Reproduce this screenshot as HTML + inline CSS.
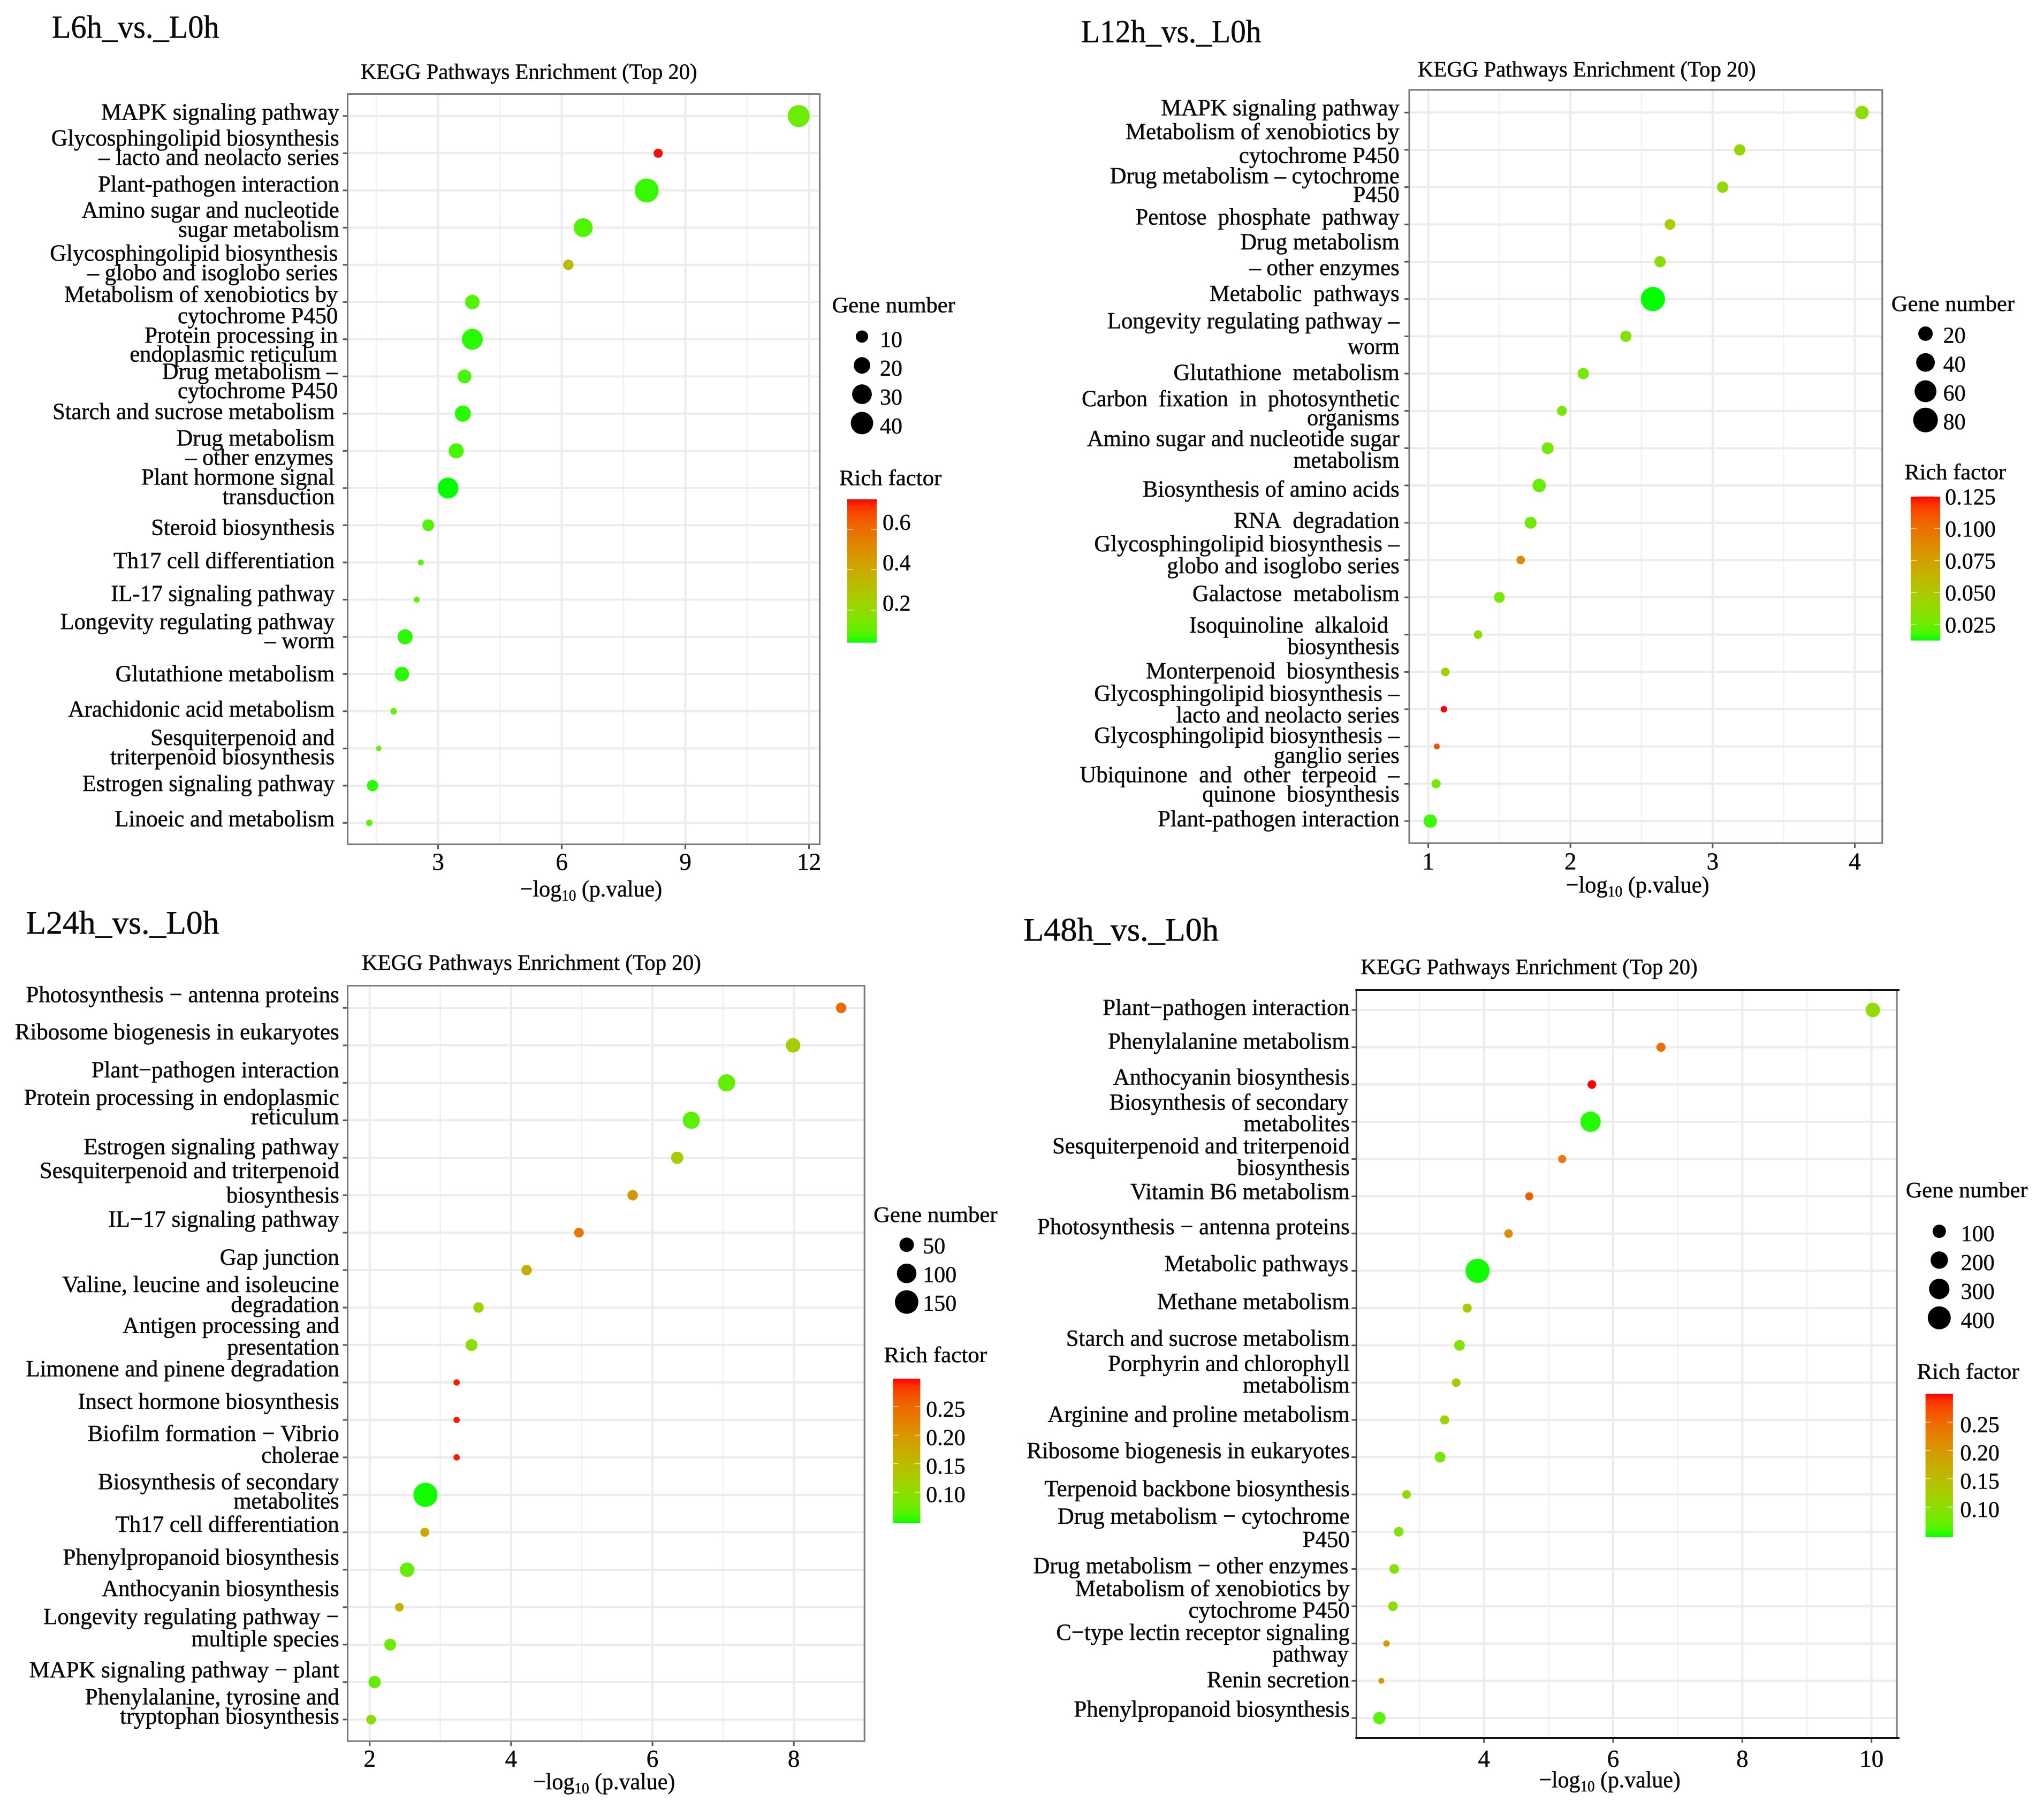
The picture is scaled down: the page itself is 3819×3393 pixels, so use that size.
<!DOCTYPE html>
<html lang="en">
<head>
<meta charset="utf-8">
<title>KEGG Pathways Enrichment</title>
<style>
html,body{margin:0;padding:0;background:#fff}
svg{display:block}
text{font-family:"Liberation Serif",serif;fill:#0a0a0a;stroke:#0a0a0a;stroke-width:0.5px}
.lab text{font-size:40px}
.lab text.head{font-size:56px}
.lab text.sub{font-size:38px}
.lab text.leg{font-size:38px}
</style>
</head>
<body>
<svg id="figure" xmlns="http://www.w3.org/2000/svg" width="3819" height="3393" viewBox="0 0 3819 3393">
<defs id="defs"></defs>
<rect width="3819" height="3393" fill="#fff"/>

<g id="p1"></g>
<g id="p2"></g>
<g id="p3"></g>
<g id="p4"></g>

<g class="lab" transform="scale(1.2117,1.0842)">
<text class="head" x="80" y="65" textLength="258" lengthAdjust="spacingAndGlyphs">L6h_vs._L0h</text>
<text class="sub" x="556" y="136" textLength="519" lengthAdjust="spacingAndGlyphs">KEGG Pathways Enrichment (Top 20)</text>
<text x="156" y="206" textLength="367" lengthAdjust="spacingAndGlyphs">MAPK signaling pathway</text>
<text x="79" y="251" textLength="444" lengthAdjust="spacingAndGlyphs">Glycosphingolipid biosynthesis</text>
<text x="152" y="284" textLength="371" lengthAdjust="spacingAndGlyphs">– lacto and neolacto series</text>
<text x="151" y="330" textLength="372" lengthAdjust="spacingAndGlyphs">Plant-pathogen interaction</text>
<text x="126" y="375" textLength="397" lengthAdjust="spacingAndGlyphs">Amino sugar and nucleotide</text>
<text x="275" y="408" textLength="248" lengthAdjust="spacingAndGlyphs">sugar metabolism</text>
<text x="77" y="449" textLength="444" lengthAdjust="spacingAndGlyphs">Glycosphingolipid biosynthesis</text>
<text x="135" y="483" textLength="386" lengthAdjust="spacingAndGlyphs">– globo and isoglobo series</text>
<text x="99" y="520" textLength="422" lengthAdjust="spacingAndGlyphs">Metabolism of xenobiotics by</text>
<text x="274" y="557" textLength="247" lengthAdjust="spacingAndGlyphs">cytochrome P450</text>
<text x="223" y="591" textLength="298" lengthAdjust="spacingAndGlyphs">Protein processing in</text>
<text x="200" y="623" textLength="320" lengthAdjust="spacingAndGlyphs">endoplasmic reticulum</text>
<text x="250" y="653" textLength="271" lengthAdjust="spacingAndGlyphs">Drug metabolism –</text>
<text x="274" y="686" textLength="247" lengthAdjust="spacingAndGlyphs">cytochrome P450</text>
<text x="81" y="722" textLength="435" lengthAdjust="spacingAndGlyphs">Starch and sucrose metabolism</text>
<text x="272" y="768" textLength="244" lengthAdjust="spacingAndGlyphs">Drug metabolism</text>
<text x="286" y="801" textLength="228" lengthAdjust="spacingAndGlyphs">– other enzymes</text>
<text x="218" y="835" textLength="298" lengthAdjust="spacingAndGlyphs">Plant hormone signal</text>
<text x="343" y="869" textLength="173" lengthAdjust="spacingAndGlyphs">transduction</text>
<text x="233" y="922" textLength="283" lengthAdjust="spacingAndGlyphs">Steroid biosynthesis</text>
<text x="175" y="979" textLength="341" lengthAdjust="spacingAndGlyphs">Th17 cell differentiation</text>
<text x="171" y="1036" textLength="345" lengthAdjust="spacingAndGlyphs">IL-17 signaling pathway</text>
<text x="93" y="1084" textLength="423" lengthAdjust="spacingAndGlyphs">Longevity regulating pathway</text>
<text x="408" y="1117" textLength="108" lengthAdjust="spacingAndGlyphs">– worm</text>
<text x="178" y="1174" textLength="338" lengthAdjust="spacingAndGlyphs">Glutathione metabolism</text>
<text x="105" y="1235" textLength="411" lengthAdjust="spacingAndGlyphs">Arachidonic acid metabolism</text>
<text x="232" y="1284" textLength="284" lengthAdjust="spacingAndGlyphs">Sesquiterpenoid and</text>
<text x="170" y="1317" textLength="346" lengthAdjust="spacingAndGlyphs">triterpenoid biosynthesis</text>
<text x="127" y="1363" textLength="389" lengthAdjust="spacingAndGlyphs">Estrogen signaling pathway</text>
<text x="177" y="1424" textLength="339" lengthAdjust="spacingAndGlyphs">Linoeic and metabolism</text>
<text x="802" y="1545" textLength="219" lengthAdjust="spacingAndGlyphs">−log<tspan font-size="26" dy="7">10</tspan><tspan dy="-7"> (p.value)</tspan></text>
<text class="leg" x="1283" y="538" textLength="190" lengthAdjust="spacingAndGlyphs">Gene number</text>
<text class="leg" x="1294" y="836" textLength="158" lengthAdjust="spacingAndGlyphs">Rich factor</text>
</g>

<g class="lab" transform="translate(1900,0) scale(1.2239,1.0842)">
<text class="head" x="98" y="73" textLength="275" lengthAdjust="spacingAndGlyphs">L12h_vs._L0h</text>
<text class="sub" x="612" y="132" textLength="516" lengthAdjust="spacingAndGlyphs">KEGG Pathways Enrichment (Top 20)</text>
<text x="220" y="199" textLength="364" lengthAdjust="spacingAndGlyphs">MAPK signaling pathway</text>
<text x="166" y="240" textLength="418" lengthAdjust="spacingAndGlyphs">Metabolism of xenobiotics by</text>
<text x="339" y="281" textLength="245" lengthAdjust="spacingAndGlyphs">cytochrome P450</text>
<text x="142" y="316" textLength="442" lengthAdjust="spacingAndGlyphs">Drug metabolism – cytochrome</text>
<text x="513" y="348" textLength="71" lengthAdjust="spacingAndGlyphs">P450</text>
<text x="181" y="387" textLength="403" lengthAdjust="spacingAndGlyphs">Pentose&#160; phosphate&#160; pathway</text>
<text x="341" y="430" textLength="243" lengthAdjust="spacingAndGlyphs">Drug metabolism</text>
<text x="355" y="474" textLength="229" lengthAdjust="spacingAndGlyphs">– other enzymes</text>
<text x="294" y="519" textLength="290" lengthAdjust="spacingAndGlyphs">Metabolic&#160; pathways</text>
<text x="138" y="566" textLength="446" lengthAdjust="spacingAndGlyphs">Longevity regulating pathway –</text>
<text x="505" y="610" textLength="79" lengthAdjust="spacingAndGlyphs">worm</text>
<text x="239" y="655" textLength="345" lengthAdjust="spacingAndGlyphs">Glutathione&#160; metabolism</text>
<text x="99" y="700" textLength="485" lengthAdjust="spacingAndGlyphs">Carbon&#160; fixation&#160; in&#160; photosynthetic</text>
<text x="443" y="733" textLength="141" lengthAdjust="spacingAndGlyphs">organisms</text>
<text x="107" y="769" textLength="477" lengthAdjust="spacingAndGlyphs">Amino sugar and nucleotide sugar</text>
<text x="422" y="806" textLength="162" lengthAdjust="spacingAndGlyphs">metabolism</text>
<text x="192" y="856" textLength="392" lengthAdjust="spacingAndGlyphs">Biosynthesis of amino acids</text>
<text x="331" y="910" textLength="253" lengthAdjust="spacingAndGlyphs">RNA&#160; degradation</text>
<text x="118" y="950" textLength="466" lengthAdjust="spacingAndGlyphs">Glycosphingolipid biosynthesis –</text>
<text x="229" y="988" textLength="355" lengthAdjust="spacingAndGlyphs">globo and isoglobo series</text>
<text x="268" y="1036" textLength="316" lengthAdjust="spacingAndGlyphs">Galactose&#160; metabolism</text>
<text x="263" y="1090" textLength="304" lengthAdjust="spacingAndGlyphs">Isoquinoline&#160; alkaloid</text>
<text x="413" y="1127" textLength="171" lengthAdjust="spacingAndGlyphs">biosynthesis</text>
<text x="197" y="1169" textLength="387" lengthAdjust="spacingAndGlyphs">Monterpenoid&#160; biosynthesis</text>
<text x="118" y="1208" textLength="466" lengthAdjust="spacingAndGlyphs">Glycosphingolipid biosynthesis –</text>
<text x="243" y="1245" textLength="341" lengthAdjust="spacingAndGlyphs">lacto and neolacto series</text>
<text x="118" y="1280" textLength="466" lengthAdjust="spacingAndGlyphs">Glycosphingolipid biosynthesis –</text>
<text x="392" y="1315" textLength="192" lengthAdjust="spacingAndGlyphs">ganglio series</text>
<text x="96" y="1348" textLength="488" lengthAdjust="spacingAndGlyphs">Ubiquinone&#160; and&#160; other&#160; terpeoid&#160; –</text>
<text x="283" y="1381" textLength="301" lengthAdjust="spacingAndGlyphs">quinone&#160; biosynthesis</text>
<text x="215" y="1424" textLength="369" lengthAdjust="spacingAndGlyphs">Plant-pathogen interaction</text>
<text x="838" y="1538" textLength="219" lengthAdjust="spacingAndGlyphs">−log<tspan font-size="26" dy="7">10</tspan><tspan dy="-7"> (p.value)</tspan></text>
<text class="leg" x="1335" y="536" textLength="188" lengthAdjust="spacingAndGlyphs">Gene number</text>
<text class="leg" x="1355" y="826" textLength="155" lengthAdjust="spacingAndGlyphs">Rich factor</text>
</g>

<g class="lab" transform="translate(0,1680) scale(1.2117,1.0925)">
<text class="head" x="40" y="59" textLength="298" lengthAdjust="spacingAndGlyphs">L24h_vs._L0h</text>
<text class="sub" x="558" y="121" textLength="523" lengthAdjust="spacingAndGlyphs">KEGG Pathways Enrichment (Top 20)</text>
<text x="40" y="176" textLength="483" lengthAdjust="spacingAndGlyphs">Photosynthesis − antenna proteins</text>
<text x="23" y="240" textLength="500" lengthAdjust="spacingAndGlyphs">Ribosome biogenesis in eukaryotes</text>
<text x="141" y="305" textLength="382" lengthAdjust="spacingAndGlyphs">Plant−pathogen interaction</text>
<text x="37" y="352" textLength="486" lengthAdjust="spacingAndGlyphs">Protein processing in endoplasmic</text>
<text x="387" y="385" textLength="136" lengthAdjust="spacingAndGlyphs">reticulum</text>
<text x="129" y="436" textLength="394" lengthAdjust="spacingAndGlyphs">Estrogen signaling pathway</text>
<text x="61" y="477" textLength="462" lengthAdjust="spacingAndGlyphs">Sesquiterpenoid and triterpenoid</text>
<text x="349" y="519" textLength="174" lengthAdjust="spacingAndGlyphs">biosynthesis</text>
<text x="167" y="560" textLength="356" lengthAdjust="spacingAndGlyphs">IL−17 signaling pathway</text>
<text x="339" y="625" textLength="184" lengthAdjust="spacingAndGlyphs">Gap junction</text>
<text x="96" y="672" textLength="427" lengthAdjust="spacingAndGlyphs">Valine, leucine and isoleucine</text>
<text x="356" y="706" textLength="167" lengthAdjust="spacingAndGlyphs">degradation</text>
<text x="189" y="742" textLength="334" lengthAdjust="spacingAndGlyphs">Antigen processing and</text>
<text x="350" y="779" textLength="173" lengthAdjust="spacingAndGlyphs">presentation</text>
<text x="40" y="816" textLength="483" lengthAdjust="spacingAndGlyphs">Limonene and pinene degradation</text>
<text x="120" y="872" textLength="403" lengthAdjust="spacingAndGlyphs">Insect hormone biosynthesis</text>
<text x="135" y="927" textLength="388" lengthAdjust="spacingAndGlyphs">Biofilm formation − Vibrio</text>
<text x="403" y="964" textLength="120" lengthAdjust="spacingAndGlyphs">cholerae</text>
<text x="151" y="1009" textLength="372" lengthAdjust="spacingAndGlyphs">Biosynthesis of secondary</text>
<text x="360" y="1042" textLength="163" lengthAdjust="spacingAndGlyphs">metabolites</text>
<text x="178" y="1082" textLength="345" lengthAdjust="spacingAndGlyphs">Th17 cell differentiation</text>
<text x="97" y="1138" textLength="426" lengthAdjust="spacingAndGlyphs">Phenylpropanoid biosynthesis</text>
<text x="157" y="1192" textLength="366" lengthAdjust="spacingAndGlyphs">Anthocyanin biosynthesis</text>
<text x="67" y="1240" textLength="456" lengthAdjust="spacingAndGlyphs">Longevity regulating pathway −</text>
<text x="295" y="1278" textLength="228" lengthAdjust="spacingAndGlyphs">multiple species</text>
<text x="45" y="1331" textLength="478" lengthAdjust="spacingAndGlyphs">MAPK signaling pathway − plant</text>
<text x="131" y="1377" textLength="392" lengthAdjust="spacingAndGlyphs">Phenylalanine, tyrosine and</text>
<text x="185" y="1410" textLength="338" lengthAdjust="spacingAndGlyphs">tryptophan biosynthesis</text>
<text x="822" y="1522" textLength="219" lengthAdjust="spacingAndGlyphs">−log<tspan font-size="26" dy="7">10</tspan><tspan dy="-7"> (p.value)</tspan></text>
<text class="leg" x="1347" y="552" textLength="191" lengthAdjust="spacingAndGlyphs">Gene number</text>
<text class="leg" x="1363" y="792" textLength="159" lengthAdjust="spacingAndGlyphs">Rich factor</text>
</g>

<g class="lab" transform="translate(1900,1680) scale(1.2239,1.0925)">
<text class="head" x="10" y="71" textLength="298" lengthAdjust="spacingAndGlyphs">L48h_vs._L0h</text>
<text class="sub" x="525" y="128" textLength="514" lengthAdjust="spacingAndGlyphs">KEGG Pathways Enrichment (Top 20)</text>
<text x="131" y="198" textLength="377" lengthAdjust="spacingAndGlyphs">Plant−pathogen interaction</text>
<text x="139" y="256" textLength="369" lengthAdjust="spacingAndGlyphs">Phenylalanine metabolism</text>
<text x="147" y="317" textLength="361" lengthAdjust="spacingAndGlyphs">Anthocyanin biosynthesis</text>
<text x="141" y="360" textLength="365" lengthAdjust="spacingAndGlyphs">Biosynthesis of secondary</text>
<text x="346" y="397" textLength="162" lengthAdjust="spacingAndGlyphs">metabolites</text>
<text x="54" y="435" textLength="454" lengthAdjust="spacingAndGlyphs">Sesquiterpenoid and triterpenoid</text>
<text x="336" y="472" textLength="172" lengthAdjust="spacingAndGlyphs">biosynthesis</text>
<text x="173" y="513" textLength="335" lengthAdjust="spacingAndGlyphs">Vitamin B6 metabolism</text>
<text x="31" y="573" textLength="477" lengthAdjust="spacingAndGlyphs">Photosynthesis − antenna proteins</text>
<text x="225" y="636" textLength="281" lengthAdjust="spacingAndGlyphs">Metabolic pathways</text>
<text x="214" y="701" textLength="294" lengthAdjust="spacingAndGlyphs">Methane metabolism</text>
<text x="75" y="764" textLength="433" lengthAdjust="spacingAndGlyphs">Starch and sucrose metabolism</text>
<text x="139" y="807" textLength="369" lengthAdjust="spacingAndGlyphs">Porphyrin and chlorophyll</text>
<text x="345" y="844" textLength="163" lengthAdjust="spacingAndGlyphs">metabolism</text>
<text x="47" y="894" textLength="461" lengthAdjust="spacingAndGlyphs">Arginine and proline metabolism</text>
<text x="15" y="956" textLength="493" lengthAdjust="spacingAndGlyphs">Ribosome biogenesis in eukaryotes</text>
<text x="42" y="1021" textLength="466" lengthAdjust="spacingAndGlyphs">Terpenoid backbone biosynthesis</text>
<text x="62" y="1068" textLength="446" lengthAdjust="spacingAndGlyphs">Drug metabolism − cytochrome</text>
<text x="436" y="1108" textLength="72" lengthAdjust="spacingAndGlyphs">P450</text>
<text x="25" y="1153" textLength="481" lengthAdjust="spacingAndGlyphs">Drug metabolism − other enzymes</text>
<text x="89" y="1192" textLength="419" lengthAdjust="spacingAndGlyphs">Metabolism of xenobiotics by</text>
<text x="262" y="1229" textLength="246" lengthAdjust="spacingAndGlyphs">cytochrome P450</text>
<text x="60" y="1267" textLength="448" lengthAdjust="spacingAndGlyphs">C−type lectin receptor signaling</text>
<text x="390" y="1304" textLength="116" lengthAdjust="spacingAndGlyphs">pathway</text>
<text x="290" y="1348" textLength="218" lengthAdjust="spacingAndGlyphs">Renin secretion</text>
<text x="87" y="1398" textLength="421" lengthAdjust="spacingAndGlyphs">Phenylpropanoid biosynthesis</text>
<text x="797" y="1519" textLength="216" lengthAdjust="spacingAndGlyphs">−log<tspan font-size="26" dy="7">10</tspan><tspan dy="-7"> (p.value)</tspan></text>
<text class="leg" x="1357" y="510" textLength="186" lengthAdjust="spacingAndGlyphs">Gene number</text>
<text class="leg" x="1374" y="820" textLength="156" lengthAdjust="spacingAndGlyphs">Rich factor</text>
</g>
</svg>

<script>
// ---- L6h data ----
const p1Categories = ["MAPK signaling pathway","Glycosphingolipid biosynthesis - lacto and neolacto series","Plant-pathogen interaction","Amino sugar and nucleotide sugar metabolism","Glycosphingolipid biosynthesis - globo and isoglobo series","Metabolism of xenobiotics by cytochrome P450","Protein processing in endoplasmic reticulum","Drug metabolism - cytochrome P450","Starch and sucrose metabolism","Drug metabolism - other enzymes","Plant hormone signal transduction","Steroid biosynthesis","Th17 cell differentiation","IL-17 signaling pathway","Longevity regulating pathway - worm","Glutathione metabolism","Arachidonic acid metabolism","Sesquiterpenoid and triterpenoid biosynthesis","Estrogen signaling pathway","Linoeic and metabolism"];
const p1LogP = [11.75,8.34,8.06,6.52,6.16,3.83,3.83,3.64,3.60,3.44,3.24,2.76,2.58,2.48,2.20,2.12,1.92,1.56,1.41,1.33];
const p1Genes = [38,4.7,46,27,6.7,14.7,34,13,19,16,34,9,1.4,1.4,16,14.7,1.8,1,8,1.8];
const p1Rich = [0.12,0.745,0.06,0.08,0.32,0.08,0.05,0.07,0.05,0.07,0.04,0.08,0.10,0.10,0.05,0.05,0.10,0.10,0.05,0.10];
const p1XTicks = [3,6,9,12];
const p1GeneLegend = [10,20,30,40];
const p1RichTicks = [0.2,0.4,0.6];

// ---- L12h data ----
const p2Categories = ["MAPK signaling pathway","Metabolism of xenobiotics by cytochrome P450","Drug metabolism - cytochrome P450","Pentose phosphate pathway","Drug metabolism - other enzymes","Metabolic pathways","Longevity regulating pathway - worm","Glutathione metabolism","Carbon fixation in photosynthetic organisms","Amino sugar and nucleotide sugar metabolism","Biosynthesis of amino acids","RNA degradation","Glycosphingolipid biosynthesis - globo and isoglobo series","Galactose metabolism","Isoquinoline alkaloid biosynthesis","Monterpenoid biosynthesis","Glycosphingolipid biosynthesis - lacto and neolacto series","Glycosphingolipid biosynthesis - ganglio series","Ubiquinone and other terpeoid - quinone biosynthesis","Plant-pathogen interaction"];
const p2LogP = [4.05,3.19,3.07,2.70,2.63,2.58,2.39,2.09,1.94,1.84,1.78,1.72,1.65,1.50,1.35,1.12,1.11,1.06,1.055,1.014];
const p2Genes = [16,9.4,9.4,8,9.4,76,9.4,9.4,6,11,16,11,3.5,8,3.5,3.5,1,0.5,4.5,16];
const p2Rich = [0.037,0.041,0.039,0.046,0.035,0.0126,0.033,0.028,0.028,0.027,0.024,0.026,0.086,0.027,0.037,0.043,0.125,0.112,0.027,0.016];
const p2XTicks = [1,2,3,4];
const p2GeneLegend = [20,40,60,80];
const p2RichTicks = [0.025,0.05,0.075,0.1,0.125];

// ---- L24h data ----
const p3Categories = ["Photosynthesis - antenna proteins","Ribosome biogenesis in eukaryotes","Plant-pathogen interaction","Protein processing in endoplasmic reticulum","Estrogen signaling pathway","Sesquiterpenoid and triterpenoid biosynthesis","IL-17 signaling pathway","Gap junction","Valine, leucine and isoleucine degradation","Antigen processing and presentation","Limonene and pinene degradation","Insect hormone biosynthesis","Biofilm formation - Vibrio cholerae","Biosynthesis of secondary metabolites","Th17 cell differentiation","Phenylpropanoid biosynthesis","Anthocyanin biosynthesis","Longevity regulating pathway - multiple species","MAPK signaling pathway - plant","Phenylalanine, tyrosine and tryptophan biosynthesis"];
const p3LogP = [8.67,7.99,7.05,6.55,6.35,5.72,4.96,4.22,3.54,3.44,3.23,3.23,3.23,2.79,2.78,2.53,2.42,2.29,2.07,2.02];
const p3Genes = [23,50,74,74,34,23,19,23,23,31,6,6,6,158,16,50,14,31,34,19];
const p3Rich = [0.248,0.122,0.07,0.065,0.122,0.198,0.235,0.165,0.114,0.097,0.295,0.295,0.295,0.047,0.178,0.071,0.165,0.075,0.07,0.097];
const p3XTicks = [2,4,6,8];
const p3GeneLegend = [50,100,150];
const p3RichTicks = [0.1,0.15,0.2,0.25];

// ---- L48h data ----
const p4Categories = ["Plant-pathogen interaction","Phenylalanine metabolism","Anthocyanin biosynthesis","Biosynthesis of secondary metabolites","Sesquiterpenoid and triterpenoid biosynthesis","Vitamin B6 metabolism","Photosynthesis - antenna proteins","Metabolic pathways","Methane metabolism","Starch and sucrose metabolism","Porphyrin and chlorophyll metabolism","Arginine and proline metabolism","Ribosome biogenesis in eukaryotes","Terpenoid backbone biosynthesis","Drug metabolism - cytochrome P450","Drug metabolism - other enzymes","Metabolism of xenobiotics by cytochrome P450","C-type lectin receptor signaling pathway","Renin secretion","Phenylpropanoid biosynthesis"];
const p4LogP = [10.02,6.74,5.67,5.65,5.21,4.70,4.38,3.90,3.74,3.62,3.57,3.39,3.32,2.80,2.68,2.61,2.59,2.49,2.41,2.38];
const p4Genes = [123,31,25,296,20,20,25,446,31,52,25,31,52,25,37,37,37,8,5,79];
const p4Rich = [0.103,0.245,0.30,0.05,0.235,0.26,0.21,0.048,0.13,0.09,0.14,0.115,0.08,0.103,0.09,0.095,0.10,0.195,0.20,0.065];
const p4XTicks = [4,6,8,10];
const p4GeneLegend = [100,200,300,400];
const p4RichTicks = [0.1,0.15,0.2,0.25];

const NS = "http://www.w3.org/2000/svg";

function make(parent, tag, attrs) {
  const el = document.createElementNS(NS, tag);
  for (const k in attrs) el.setAttribute(k, attrs[k]);
  parent.appendChild(el);
  return el;
}

// Green to red colour ramp interpolated in CIE Lab, like ggplot2's gradient scale.
function srgbToLab(c) {
  const f = c.map(v => { v /= 255; return v <= 0.04045 ? v / 12.92 : Math.pow((v + 0.055) / 1.055, 2.4); });
  const X = (0.4124564 * f[0] + 0.3575761 * f[1] + 0.1804375 * f[2]) / 0.95047;
  const Y = 0.2126729 * f[0] + 0.7151522 * f[1] + 0.0721750 * f[2];
  const Z = (0.0193339 * f[0] + 0.1191920 * f[1] + 0.9503041 * f[2]) / 1.08883;
  const g = t => t > 0.008856 ? Math.cbrt(t) : 7.787 * t + 16 / 116;
  return [116 * g(Y) - 16, 500 * (g(X) - g(Y)), 200 * (g(Y) - g(Z))];
}
function labToCss(l) {
  const fy = (l[0] + 16) / 116, fx = l[1] / 500 + fy, fz = fy - l[2] / 200;
  const h = t => { const c = t * t * t; return c > 0.008856 ? c : (t - 16 / 116) / 7.787; };
  const X = h(fx) * 0.95047, Y = h(fy), Z = h(fz) * 1.08883;
  const rgb = [3.2404542 * X - 1.5371385 * Y - 0.4985314 * Z, -0.9692660 * X + 1.8760108 * Y + 0.0415560 * Z, 0.0556434 * X - 0.2040259 * Y + 1.0572252 * Z];
  const s = rgb.map(v => { v = Math.max(0, Math.min(1, v)); v = v <= 0.0031308 ? 12.92 * v : 1.055 * Math.pow(v, 1 / 2.4) - 0.055; return Math.round(v * 255); });
  return "rgb(" + s.join(",") + ")";
}
const labLow = srgbToLab([0, 255, 0]);
const labHigh = srgbToLab([255, 0, 0]);
function ramp(t) {
  t = Math.max(0, Math.min(1, t));
  return labToCss(labLow.map((v, i) => v + (labHigh[i] - v) * t));
}

const defs = document.getElementById("defs");
const gradient = make(defs, "linearGradient", { id: "richRamp", x1: 0, y1: 1, x2: 0, y2: 0 });
for (let i = 0; i <= 20; i++) {
  make(gradient, "stop", { offset: i / 20, "stop-color": ramp(i / 20) });
}

function drawPanel(cfg) {
  const root = document.getElementById(cfg.id);
  const b = cfg.box;
  const xScale = v => b.l + (v - cfg.xDomain[0]) / (cfg.xDomain[1] - cfg.xDomain[0]) * (b.r - b.l);
  const yScale = i => cfg.rowFirst + i * (cfg.rowLast - cfg.rowFirst) / (cfg.categories.length - 1);
  const diam = g => cfg.sizeA * Math.sqrt(g) + cfg.sizeB;
  const richT = r => (r - cfg.richDomain[0]) / (cfg.richDomain[1] - cfg.richDomain[0]);

  // minor vertical grid
  const step = cfg.xTicks[1] - cfg.xTicks[0];
  for (let i = -1; i < cfg.xTicks.length; i++) {
    const m = cfg.xTicks[0] + (i + 0.5) * step;
    if (m <= cfg.xDomain[0] || m >= cfg.xDomain[1]) continue;
    const el = make(root, "line", { x1: xScale(m), x2: xScale(m), y1: b.t, y2: b.b, stroke: "#f1f1f1", "stroke-width": 2.5 });
    
    
  }
  // major vertical grid and x ticks
  cfg.xTicks.forEach(t => {
    const x = xScale(t);
    const grid = make(root, "line", { x1: x, x2: x, y1: b.t, y2: b.b, stroke: "#ececec", "stroke-width": 4 });
    
    
    const tick = make(root, "line", { x1: x, x2: x, y1: b.b, y2: b.b + 9, stroke: "#555", "stroke-width": 3 });
    
    
    const label = make(root, "text", { x: x, y: b.b + cfg.xLabelDy, "text-anchor": "middle", "font-size": 45 });
    
    
    label.textContent = t;
  });
  // row grid and y ticks
  cfg.categories.forEach((c, i) => {
    const y = yScale(i);
    const grid = make(root, "line", { x1: b.l, x2: b.r, y1: y, y2: y, stroke: "#ececec", "stroke-width": 4 });
    
    
    const tick = make(root, "line", { x1: b.l - 9, x2: b.l, y1: y, y2: y, stroke: "#555", "stroke-width": 3 });
    
    
  });
  // panel border
  if (cfg.heavyBorder) {
    const right = make(root, "line", { x1: b.r, x2: b.r, y1: b.t, y2: b.b, stroke: "#888", "stroke-width": 3.5 });
    
    
    const left = make(root, "line", { x1: b.l, x2: b.l, y1: b.t, y2: b.b, stroke: "#444", "stroke-width": 3 });
    
    
    const top = make(root, "line", { x1: b.l - 2, x2: b.r + 5, y1: b.t, y2: b.t, stroke: "#111", "stroke-width": 4 });
    
    
    const bottom = make(root, "line", { x1: b.l - 2, x2: b.r + 5, y1: b.b, y2: b.b, stroke: "#111", "stroke-width": 4 });
    
    
  } else {
    const border = make(root, "rect", { x: b.l, y: b.t, width: b.r - b.l, height: b.b - b.t, fill: "none", stroke: "#777", "stroke-width": 3 });
    
    
  }
  // points
  cfg.categories.forEach((c, i) => {
    const dot = make(root, "circle", { cx: xScale(cfg.logP[i]), cy: yScale(i), r: diam(cfg.genes[i]) / 2, fill: ramp(richT(cfg.rich[i])) });
    
    
    const tip = make(dot, "title", {});
    tip.textContent = c;
  });
  // gene number legend
  cfg.geneLegend.forEach((g, i) => {
    const y = cfg.legendY + i * cfg.legendStep;
    const key = make(root, "circle", { cx: cfg.legendX, cy: y, r: diam(g) / 2, fill: "#000" });
    
    
    const label = make(root, "text", { x: cfg.legendLabelX, y: y + cfg.legendLabelDy, "font-size": 42 });
    
    
    label.textContent = g;
  });
  // rich factor colour bar
  const bar = make(root, "rect", { x: cfg.barL, y: cfg.barT, width: cfg.barR - cfg.barL, height: cfg.barB - cfg.barT, fill: "url(#richRamp)" });
  
  
  const barY = r => cfg.barB - richT(r) * (cfg.barB - cfg.barT);
  const tickLen = (cfg.barR - cfg.barL) / 5;
  cfg.richTicks.forEach(r => {
    const y = barY(r);
    const t1 = make(root, "line", { x1: cfg.barL, x2: cfg.barL + tickLen, y1: y, y2: y, stroke: "#fff", "stroke-opacity": 0.7, "stroke-width": 1.5 });
    
    
    const t2 = make(root, "line", { x1: cfg.barR - tickLen, x2: cfg.barR, y1: y, y2: y, stroke: "#fff", "stroke-opacity": 0.7, "stroke-width": 1.5 });
    
    
    const label = make(root, "text", { x: cfg.barLabelX, y: y + cfg.barLabelDy, "font-size": 42 });
    
    
    label.textContent = r.toFixed(cfg.richDigits);
  });
}

drawPanel({
  id: "p1", categories: p1Categories, logP: p1LogP, genes: p1Genes, rich: p1Rich,
  xTicks: p1XTicks, geneLegend: p1GeneLegend, richTicks: p1RichTicks, richDigits: 1,
  box: { l: 649.5, r: 1531.6, t: 175.6, b: 1577.5 }, xDomain: [0.804, 12.26],
  rowFirst: 216.8, rowLast: 1537.4, xLabelDy: 48,
  sizeA: 6, sizeB: 4, richDomain: [0.039, 0.748],
  legendX: 1610.5, legendY: 628.8, legendStep: 53.9, legendLabelX: 1644, legendLabelDy: 19.5,
  barL: 1583, barR: 1638, barT: 933, barB: 1200.7, barLabelX: 1649, barLabelDy: 1
});
drawPanel({
  id: "p2", categories: p2Categories, logP: p2LogP, genes: p2Genes, rich: p2Rich,
  xTicks: p2XTicks, geneLegend: p2GeneLegend, richTicks: p2RichTicks, richDigits: 3,
  box: { l: 2633, r: 3516.8, t: 168, b: 1575.3 }, xDomain: [0.866, 4.193],
  rowFirst: 210.3, rowLast: 1534.1, xLabelDy: 49,
  sizeA: 4.25, sizeB: 8, richDomain: [0.0126, 0.125],
  legendX: 3597.6, legendY: 623.4, legendStep: 53.8, legendLabelX: 3630.6, legendLabelDy: 17.3,
  barL: 3570, barR: 3625, barT: 927.7, barB: 1196.7, barLabelX: 3634.3, barLabelDy: 15
});
drawPanel({
  id: "p3", categories: p3Categories, logP: p3LogP, genes: p3Genes, rich: p3Rich,
  xTicks: p3XTicks, geneLegend: p3GeneLegend, richTicks: p3RichTicks, richDigits: 2,
  box: { l: 649.5, r: 1615.2, t: 1841.7, b: 3253.2 }, xDomain: [1.688, 9.0],
  rowFirst: 1883.2, rowLast: 3212.8, xLabelDy: 48,
  sizeA: 3.28, sizeB: 3.8, richDomain: [0.046, 0.299],
  legendX: 1694, legendY: 2325.7, legendStep: 53.5, legendLabelX: 1724.3, legendLabelDy: 16.4,
  barL: 1668.5, barR: 1719.4, barT: 2575.9, barB: 2845.7, barLabelX: 1730.3, barLabelDy: 18.6
});
drawPanel({
  id: "p4", categories: p4Categories, logP: p4LogP, genes: p4Genes, rich: p4Rich,
  xTicks: p4XTicks, geneLegend: p4GeneLegend, richTicks: p4RichTicks, richDigits: 2, heavyBorder: true,
  box: { l: 2534.3, r: 3544, t: 1850, b: 3247 }, xDomain: [2.024, 10.392],
  rowFirst: 1887, rowLast: 3210, xLabelDy: 54,
  sizeA: 1.8, sizeB: 7, richDomain: [0.047, 0.30],
  legendX: 3623.3, legendY: 2300.5, legendStep: 53.9, legendLabelX: 3663.6, legendLabelDy: 18.6,
  barL: 3597.6, barR: 3648.9, barT: 2604.3, barB: 2871.9, barLabelX: 3662.4, barLabelDy: 18.6
});
</script>
</body>
</html>
